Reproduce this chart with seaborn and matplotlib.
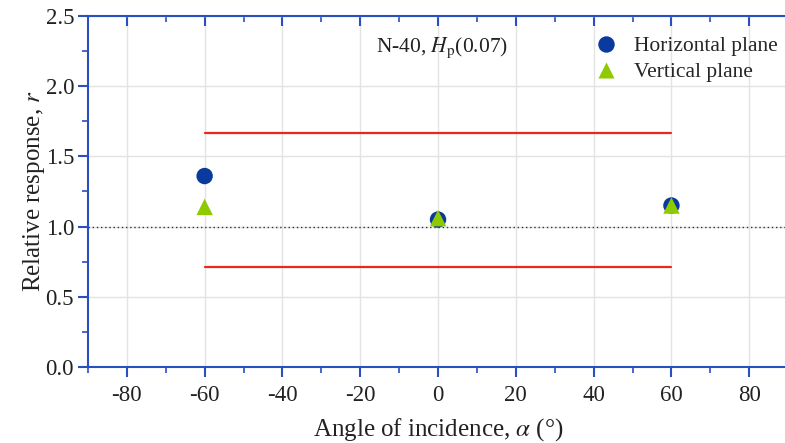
import pandas as pd
import seaborn as sns
import matplotlib.pyplot as plt
from matplotlib.ticker import MultipleLocator

angles = [-60, 0, 60]
horizontal = [1.36, 1.05, 1.15]
vertical = [1.14, 1.06, 1.15]
limit_upper = 1.67
limit_lower = 0.71
limit_range = [-60, 60]

df = pd.DataFrame({
    'angle': angles * 2,
    'r': horizontal + vertical,
    'plane': ['Horizontal plane'] * 3 + ['Vertical plane'] * 3,
})

sns.set_style('white')
plt.rcParams['font.family'] = ['Liberation Serif', 'DejaVu Serif']
plt.rcParams['mathtext.fontset'] = 'stix'

blue = '#2a4fc0'
fig = plt.figure(figsize=(7.85, 4.43), dpi=100)
ax = fig.add_axes([0.112, 0.1716, 0.892, 0.7923])

# grid
ax.grid(True, color='#e3e3e3', linewidth=1.0)
ax.set_axisbelow(True)

ax.axhline(1.0, color='#333333', linestyle=(0, (1, 2)), linewidth=1.0, zorder=1)
ax.plot(limit_range, [limit_upper] * 2, color='#e8281e', linewidth=1.6, zorder=2)
ax.plot(limit_range, [limit_lower] * 2, color='#e8281e', linewidth=1.6, zorder=2)

sns.scatterplot(data=df, x='angle', y='r', hue='plane', style='plane',
                palette={'Horizontal plane': '#0a3a9e', 'Vertical plane': '#8fc900'},
                markers={'Horizontal plane': 'o', 'Vertical plane': '^'},
                s=140, edgecolor='none', ax=ax, zorder=3)

ax.set_xlim(-90, 90)
ax.set_ylim(0, 2.5)
ax.xaxis.set_major_locator(MultipleLocator(20))
ax.xaxis.set_minor_locator(MultipleLocator(10))
ax.yaxis.set_major_locator(MultipleLocator(0.5))
ax.yaxis.set_minor_locator(MultipleLocator(0.25))
ax.yaxis.set_major_formatter(plt.FuncFormatter(lambda v, p: f'{v:.1f}'))
ax.xaxis.set_major_formatter(plt.FuncFormatter(lambda v, p: f'{v:.0f}'))

for s in ax.spines.values():
    s.set_color(blue)
    s.set_linewidth(1.5)
    s.set_visible(True)

ax.tick_params(which='both', color=blue, labelsize=16.5, labelcolor='#222222',
               bottom=True, left=True, top=True, right=True, direction='out')
ax.tick_params(which='major', length=7, width=1.5)
ax.tick_params(which='minor', length=4, width=1.2)
ax.tick_params(axis='x', which='major', pad=6)
ax.tick_params(axis='y', which='major', pad=3)
for t in ax.xaxis.get_major_ticks() + ax.xaxis.get_minor_ticks():
    t.tick2line.set_marker(3)
for t in ax.yaxis.get_major_ticks() + ax.yaxis.get_minor_ticks():
    t.tick2line.set_marker(1)

ax.set_xlabel(r'Angle of incidence, $\alpha$ (°)', fontsize=18, color='#222222', labelpad=7)
ax.set_ylabel(r'Relative response, $r$', fontsize=18, color='#222222', labelpad=-1)

ax.text(-16, 2.24, r'N-40, $H_\mathrm{p}$(0.07)', fontsize=15.5, color='#222222', va='baseline')

ax.legend(loc='upper left', bbox_to_anchor=(0.687, 0.985), frameon=False,
          fontsize=15.5, handletextpad=0.3, labelspacing=0.28, markerscale=1.0,
          borderaxespad=0.3)

fig.savefig('out.png', dpi=100)
